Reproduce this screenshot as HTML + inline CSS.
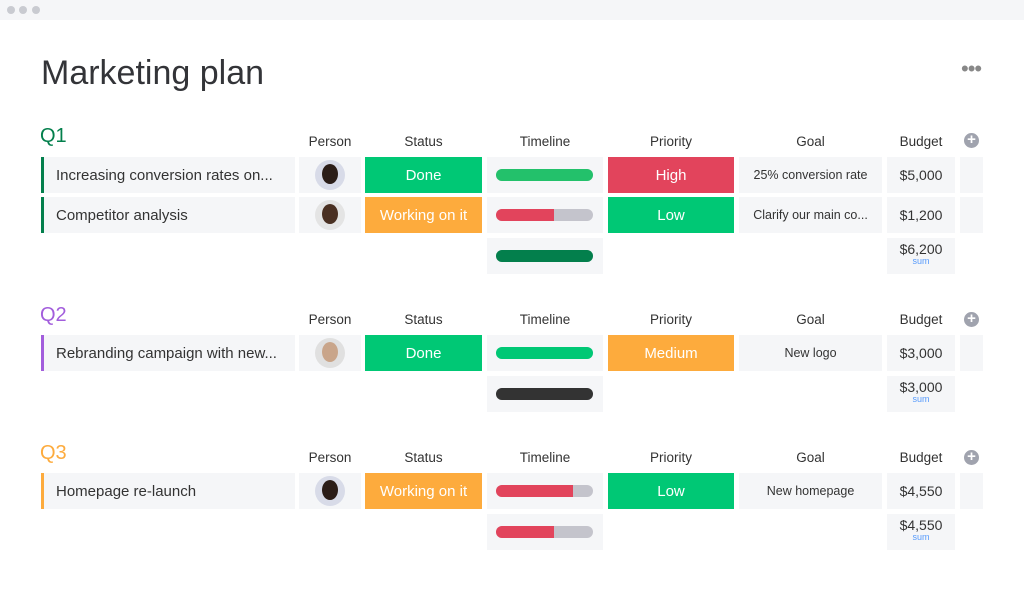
<!DOCTYPE html>
<html><head><meta charset="utf-8"><style>
body{margin:0;width:1024px;height:593px;background:#fff;font-family:"Liberation Sans",sans-serif;position:relative;overflow:hidden;color:#323338}
div{position:absolute;box-sizing:border-box}
.top{left:0;top:0;width:1024px;height:20px;background:#f5f6f8}
.dot{width:8px;height:8px;border-radius:50%;background:#c9cbd1;top:6px}
.h{font-size:13.5px;color:#333;text-align:center;line-height:16px}
.c{height:36px;background:#f5f6f8;line-height:37px;text-align:center;font-size:12.5px;color:#333}
.n{left:41px;width:254px;text-align:left;padding-left:12px;font-size:15px;border-left:3px solid}
.p{left:299px;width:62px}
.s{left:365px;width:117px;color:#fff;font-size:15px}
.t{left:487px;width:116px}
.r{left:608px;width:126px;color:#fff;font-size:15px}
.g{left:739px;width:143px}
.b{left:887px;width:68px;font-size:14px}
.x{left:960px;width:23px}
.bar{left:9px;top:12px;width:97px;height:12px;border-radius:6px;overflow:hidden;background:#c4c4cc}
.bar i{position:absolute;left:0;top:0;height:12px}
.av{left:16px;top:3px;width:30px;height:30px;border-radius:50%;background:#d8dbe8}
.av i{position:absolute;left:7px;top:4px;width:16px;height:20px;border-radius:50%;}
.plus{left:964px;width:15px;height:15px;border-radius:50%;background:#a0a3ae;color:#fff;font-size:15px;line-height:14px;text-align:center;font-weight:bold}
.sum{line-height:16px;padding-top:3px}
.sum span{display:block;font-size:9px;color:#579bfc;line-height:9px}
.q{left:40px;font-size:20px}
</style></head><body>
<div class="top"></div>
<div class="dot" style="left:7px"></div><div class="dot" style="left:19px"></div><div class="dot" style="left:32px"></div>
<div style="left:41px;top:53px;font-size:34px;color:#333438;line-height:40px">Marketing plan</div>
<div style="left:961px;top:56px;font-size:22px;color:#888;letter-spacing:-1px">•••</div>

<!-- Q1 -->
<div class="q" style="top:125px;color:#037f4c">Q1</div>
<div class="h" style="left:299px;width:62px;top:134px">Person</div>
<div class="h" style="left:365px;width:117px;top:134px">Status</div>
<div class="h" style="left:487px;width:116px;top:134px">Timeline</div>
<div class="h" style="left:608px;width:126px;top:134px">Priority</div>
<div class="h" style="left:739px;width:143px;top:134px">Goal</div>
<div class="h" style="left:887px;width:68px;top:134px">Budget</div>
<div class="plus" style="top:133px">+</div>

<div class="c n" style="top:157px;border-color:#037f4c">Increasing conversion rates on...</div>
<div class="c p" style="top:157px"><div class="av"><i style="background:#2b1d18"></i></div></div>
<div class="c s" style="top:157px;background:#00c875">Done</div>
<div class="c t" style="top:157px"><div class="bar"><i style="width:97px;background:#23c16b"></i></div></div>
<div class="c r" style="top:157px;background:#e2445c">High</div>
<div class="c g" style="top:157px">25% conversion rate</div>
<div class="c b" style="top:157px">$5,000</div>
<div class="c x" style="top:157px"></div>

<div class="c n" style="top:197px;border-color:#037f4c">Competitor analysis</div>
<div class="c p" style="top:197px"><div class="av" style="background:#e4e4e4"><i style="background:#4a3022"></i></div></div>
<div class="c s" style="top:197px;background:#fdab3d">Working on it</div>
<div class="c t" style="top:197px"><div class="bar"><i style="width:58px;background:#e2445c"></i></div></div>
<div class="c r" style="top:197px;background:#00c875">Low</div>
<div class="c g" style="top:197px">Clarify our main co...</div>
<div class="c b" style="top:197px">$1,200</div>
<div class="c x" style="top:197px"></div>

<div class="c t" style="top:238px"><div class="bar"><i style="width:97px;background:#037f4c"></i></div></div>
<div class="c b sum" style="top:238px">$6,200<span>sum</span></div>

<!-- Q2 -->
<div class="q" style="top:304px;color:#a25ddc">Q2</div>
<div class="h" style="left:299px;width:62px;top:312px">Person</div>
<div class="h" style="left:365px;width:117px;top:312px">Status</div>
<div class="h" style="left:487px;width:116px;top:312px">Timeline</div>
<div class="h" style="left:608px;width:126px;top:312px">Priority</div>
<div class="h" style="left:739px;width:143px;top:312px">Goal</div>
<div class="h" style="left:887px;width:68px;top:312px">Budget</div>
<div class="plus" style="top:312px">+</div>

<div class="c n" style="top:335px;border-color:#a25ddc">Rebranding campaign with new...</div>
<div class="c p" style="top:335px"><div class="av" style="background:#e0e0e0"><i style="background:#c9a58a"></i></div></div>
<div class="c s" style="top:335px;background:#00c875">Done</div>
<div class="c t" style="top:335px"><div class="bar"><i style="width:97px;background:#00c875"></i></div></div>
<div class="c r" style="top:335px;background:#fdab3d">Medium</div>
<div class="c g" style="top:335px">New logo</div>
<div class="c b" style="top:335px">$3,000</div>
<div class="c x" style="top:335px"></div>

<div class="c t" style="top:376px"><div class="bar"><i style="width:97px;background:#333"></i></div></div>
<div class="c b sum" style="top:376px">$3,000<span>sum</span></div>

<!-- Q3 -->
<div class="q" style="top:442px;color:#fdab3d">Q3</div>
<div class="h" style="left:299px;width:62px;top:450px">Person</div>
<div class="h" style="left:365px;width:117px;top:450px">Status</div>
<div class="h" style="left:487px;width:116px;top:450px">Timeline</div>
<div class="h" style="left:608px;width:126px;top:450px">Priority</div>
<div class="h" style="left:739px;width:143px;top:450px">Goal</div>
<div class="h" style="left:887px;width:68px;top:450px">Budget</div>
<div class="plus" style="top:450px">+</div>

<div class="c n" style="top:473px;border-color:#fdab3d">Homepage re-launch</div>
<div class="c p" style="top:473px"><div class="av"><i style="background:#2b1d18"></i></div></div>
<div class="c s" style="top:473px;background:#fdab3d">Working on it</div>
<div class="c t" style="top:473px"><div class="bar"><i style="width:77px;background:#e2445c"></i></div></div>
<div class="c r" style="top:473px;background:#00c875">Low</div>
<div class="c g" style="top:473px">New homepage</div>
<div class="c b" style="top:473px">$4,550</div>
<div class="c x" style="top:473px"></div>

<div class="c t" style="top:514px"><div class="bar"><i style="width:58px;background:#e2445c"></i></div></div>
<div class="c b sum" style="top:514px">$4,550<span>sum</span></div>
</body></html>
